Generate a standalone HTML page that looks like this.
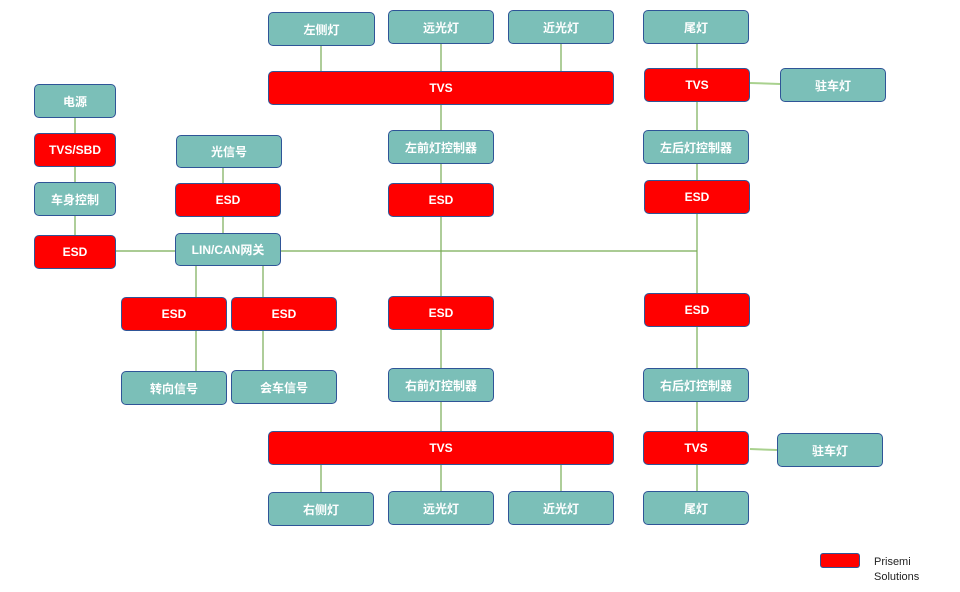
<!DOCTYPE html>
<html><head><meta charset="utf-8"><style>
body{margin:0;width:960px;height:592px;background:#fff;position:relative;overflow:hidden;font-family:"Liberation Sans","Noto Sans CJK SC",sans-serif}
.b{position:absolute;box-sizing:border-box;border:1.3px solid #2f5597;border-radius:5px;display:flex;align-items:center;justify-content:center;color:#fff;font-size:12px;font-weight:bold}
.t{background:#7bbfb8}
.r{background:#ff0000}
svg{position:absolute;left:0;top:0}
</style></head><body>
<svg width="960" height="592"><g stroke="#77ac55" stroke-width="1.2">
<line x1="321" y1="44" x2="321" y2="71"/><line x1="441" y1="44" x2="441" y2="71"/><line x1="561" y1="44" x2="561" y2="71"/>
<line x1="441" y1="105" x2="441" y2="130"/><line x1="441" y1="164" x2="441" y2="183"/><line x1="441" y1="217" x2="441" y2="296"/>
<line x1="441" y1="330" x2="441" y2="368"/><line x1="441" y1="402" x2="441" y2="431"/>
<line x1="321" y1="465" x2="321" y2="492"/><line x1="441" y1="465" x2="441" y2="491"/><line x1="561" y1="465" x2="561" y2="491"/>
<line x1="697" y1="44" x2="697" y2="68"/><line x1="750" y1="83" x2="780" y2="84" stroke="#a9d18e" stroke-width="2"/>
<line x1="697" y1="102" x2="697" y2="130"/><line x1="697" y1="164" x2="697" y2="180"/><line x1="697" y1="214" x2="697" y2="293"/>
<line x1="697" y1="327" x2="697" y2="368"/><line x1="697" y1="402" x2="697" y2="431"/><line x1="750" y1="449" x2="777" y2="450" stroke="#a9d18e" stroke-width="2"/>
<line x1="697" y1="465" x2="697" y2="491"/>
<line x1="75" y1="118" x2="75" y2="133"/><line x1="75" y1="167" x2="75" y2="182"/><line x1="75" y1="216" x2="75" y2="235"/>
<line x1="116" y1="251" x2="175" y2="251"/><line x1="281" y1="251" x2="697" y2="251"/>
<line x1="223" y1="168" x2="223" y2="183"/><line x1="223" y1="217" x2="223" y2="233"/>
<line x1="196" y1="266" x2="196" y2="297"/><line x1="263" y1="266" x2="263" y2="297"/>
<line x1="196" y1="331" x2="196" y2="371"/><line x1="263" y1="331" x2="263" y2="370"/>
</g></svg>
<div class="b t" style="left:268px;top:12px;width:107px;height:34px">左侧灯</div>
<div class="b t" style="left:388px;top:10px;width:106px;height:34px">远光灯</div>
<div class="b t" style="left:508px;top:10px;width:106px;height:34px">近光灯</div>
<div class="b t" style="left:643px;top:10px;width:106px;height:34px">尾灯</div>
<div class="b r" style="left:268px;top:71px;width:346px;height:34px">TVS</div>
<div class="b r" style="left:644px;top:68px;width:106px;height:34px">TVS</div>
<div class="b t" style="left:780px;top:68px;width:106px;height:34px">驻车灯</div>
<div class="b t" style="left:34px;top:84px;width:82px;height:34px">电源</div>
<div class="b r" style="left:34px;top:133px;width:82px;height:34px">TVS/SBD</div>
<div class="b t" style="left:34px;top:182px;width:82px;height:34px">车身控制</div>
<div class="b r" style="left:34px;top:235px;width:82px;height:34px">ESD</div>
<div class="b t" style="left:176px;top:135px;width:106px;height:33px">光信号</div>
<div class="b r" style="left:175px;top:183px;width:106px;height:34px">ESD</div>
<div class="b t" style="left:175px;top:233px;width:106px;height:33px">LIN/CAN网关</div>
<div class="b t" style="left:388px;top:130px;width:106px;height:34px">左前灯控制器</div>
<div class="b r" style="left:388px;top:183px;width:106px;height:34px">ESD</div>
<div class="b t" style="left:643px;top:130px;width:106px;height:34px">左后灯控制器</div>
<div class="b r" style="left:644px;top:180px;width:106px;height:34px">ESD</div>
<div class="b r" style="left:121px;top:297px;width:106px;height:34px">ESD</div>
<div class="b r" style="left:231px;top:297px;width:106px;height:34px">ESD</div>
<div class="b r" style="left:388px;top:296px;width:106px;height:34px">ESD</div>
<div class="b r" style="left:644px;top:293px;width:106px;height:34px">ESD</div>
<div class="b t" style="left:121px;top:371px;width:106px;height:34px">转向信号</div>
<div class="b t" style="left:231px;top:370px;width:106px;height:34px">会车信号</div>
<div class="b t" style="left:388px;top:368px;width:106px;height:34px">右前灯控制器</div>
<div class="b t" style="left:643px;top:368px;width:106px;height:34px">右后灯控制器</div>
<div class="b r" style="left:268px;top:431px;width:346px;height:34px">TVS</div>
<div class="b r" style="left:643px;top:431px;width:106px;height:34px">TVS</div>
<div class="b t" style="left:777px;top:433px;width:106px;height:34px">驻车灯</div>
<div class="b t" style="left:268px;top:492px;width:106px;height:34px">右侧灯</div>
<div class="b t" style="left:388px;top:491px;width:106px;height:34px">远光灯</div>
<div class="b t" style="left:508px;top:491px;width:106px;height:34px">近光灯</div>
<div class="b t" style="left:643px;top:491px;width:106px;height:34px">尾灯</div>
<div class="b r" style="left:820px;top:553px;width:40px;height:15px;border-radius:3px"></div>
<div style="position:absolute;left:874px;top:555px;font-size:11px;line-height:15px;color:#222">Prisemi<br>Solutions</div>
</body></html>
